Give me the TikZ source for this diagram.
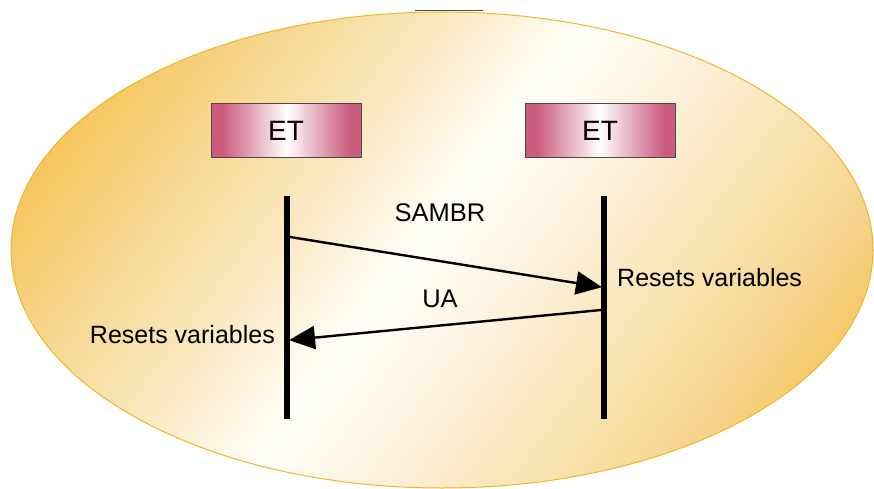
\documentclass[tikz,border=0pt]{standalone}
\usepackage{fontspec}
\setmainfont{Liberation Sans}
\usetikzlibrary{arrows.meta}

% palette
\definecolor{ovalEdge}{HTML}{F4C55A}
\definecolor{ovalWarm}{HTML}{F8DA98}
\definecolor{ovalLight}{HTML}{FAE8C0}
\definecolor{ovalWhite}{HTML}{FFFEF8}
\definecolor{ovalCream}{HTML}{FCF2DE}
\definecolor{ovalSand}{HTML}{F9E2AE}
\definecolor{ovalDeep}{HTML}{F7D38A}
\definecolor{ovalLine}{HTML}{EFB52C}
\definecolor{etPink}{HTML}{CB5C80}
\definecolor{etLine}{HTML}{4A4A4A}

% diagonal light band across the oval (box edges sit at 25bp and 75bp)
\pgfdeclarehorizontalshading{ovalshade}{100bp}{%
  color(0bp)=(ovalEdge); color(31bp)=(ovalEdge); color(38bp)=(ovalWarm);
  color(43bp)=(ovalLight); color(49bp)=(ovalWhite); color(54bp)=(ovalCream);
  color(61bp)=(ovalSand); color(66bp)=(ovalDeep); color(70bp)=(ovalEdge);
  color(100bp)=(ovalEdge)}
% pink box with a white glow in the middle
\pgfdeclarehorizontalshading{boxshade}{100bp}{%
  color(0bp)=(etPink); color(29bp)=(etPink); color(50bp)=(white);
  color(71bp)=(etPink); color(100bp)=(etPink)}

\tikzset{
  etbox/.style={draw=etLine, line width=1pt, shading=boxshade,
    minimum width=150pt, minimum height=54pt, inner sep=0pt,
    font=\fontsize{28}{30}\selectfont},
  lifeline/.style={line width=6pt},
  msg/.style={line width=2.4pt, -{Triangle[length=26pt,width=23pt]}, shorten >=-1pt},
  msglabel/.style={inner sep=0pt, font=\fontsize{25.5}{28}\selectfont},
  note/.style={inner sep=0pt, font=\fontsize{25}{27}\selectfont}
}

\begin{document}
\begin{tikzpicture}[x=1pt,y=-1pt]
\useasboundingbox (0,0) rectangle (874,489);

% background oval, shaded along a tilted axis
\begin{scope}
  \clip (442,250) ellipse [x radius=431, y radius=238];
  \begin{scope}[transform canvas={rotate around={-36.6:(442,250)}}]
    \shade[shading=ovalshade] (-58,-250) rectangle (942,750);
  \end{scope}
\end{scope}
\draw[ovalLine, line width=1pt] (442,250) ellipse [x radius=431, y radius=238];
\draw[black!70, line width=1.2pt] (415,10.5) -- (483,10.5);

% the two entities
\node[etbox] (et1) at (286,131) {ET};
\node[etbox] (et2) at (600,131) {ET};

% lifelines
\coordinate (l1top) at (287,196);
\coordinate (l1bot) at (287,419);
\coordinate (l2top) at (604,196);
\coordinate (l2bot) at (604,419);
\draw[lifeline] (l1top) -- (l1bot);
\draw[lifeline] (l2top) -- (l2bot);

% messages
\coordinate (s1) at (290,237);
\coordinate (s2) at (601,287);
\coordinate (u1) at (601,310);
\coordinate (u2) at (290,340);
\draw[msg] (s1) -- (s2);
\draw[msg] (u1) -- (u2);

\node[msglabel] (sambr) at (440,213) {SAMBR};
\node[msglabel] (ua) at (440,299) {UA};

% local actions
\node[note, anchor=west] (resetR) at (617,278) {Resets variables};
\node[note, anchor=east] (resetL) at (275,335) {Resets variables};
\end{tikzpicture}
\end{document}
